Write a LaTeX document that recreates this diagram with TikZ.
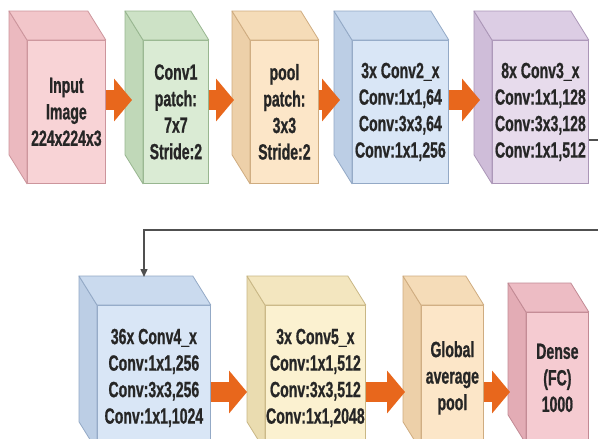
\documentclass[tikz,border=0pt]{standalone}
\usepackage{fontspec}
\usetikzlibrary{arrows.meta,calc}
\newfontfamily\boxfont[FakeStretch=0.64,FakeBold=0.8]{Liberation Sans Bold}

% face colours: front / side / top / edge
\definecolor{pinkF}{HTML}{F8D3D6}\definecolor{pinkS}{HTML}{EBB9BF}\definecolor{pinkT}{HTML}{F2C6CA}\definecolor{pinkE}{HTML}{CC959C}
\definecolor{greenF}{HTML}{DAEBD4}\definecolor{greenS}{HTML}{C0D8B8}\definecolor{greenT}{HTML}{CDE2C6}\definecolor{greenE}{HTML}{98B690}
\definecolor{peachF}{HTML}{FCE6C8}\definecolor{peachS}{HTML}{EDD0A9}\definecolor{peachT}{HTML}{F5DCB8}\definecolor{peachE}{HTML}{CFAC80}
\definecolor{blueF}{HTML}{D9E6F6}\definecolor{blueS}{HTML}{BCCEE5}\definecolor{blueT}{HTML}{CADAEE}\definecolor{blueE}{HTML}{93A9C6}
\definecolor{lilacF}{HTML}{E7DBEC}\definecolor{lilacS}{HTML}{CFBDD9}\definecolor{lilacT}{HTML}{DCCDE4}\definecolor{lilacE}{HTML}{AB96B7}
\definecolor{yellowF}{HTML}{FBF1D0}\definecolor{yellowS}{HTML}{EADCB0}\definecolor{yellowT}{HTML}{F3E6BF}\definecolor{yellowE}{HTML}{C9B785}
\definecolor{denseF}{HTML}{F5CBD1}\definecolor{denseS}{HTML}{E3ACB5}\definecolor{denseT}{HTML}{EDBCC4}\definecolor{denseE}{HTML}{C28A94}
\definecolor{txt}{HTML}{262626}
\definecolor{flowc}{HTML}{E8671C}
\definecolor{linkc}{HTML}{505050}

\tikzset{
  face/.style={line width=0.8pt, line join=round},
  block/.style={anchor=north west, inner sep=0pt, align=center, line width=0.8pt,
    font=\boxfont\fontsize{22}{26.5}\selectfont, text=txt},
  flow/.style={draw=flowc, line width=20pt, -{Triangle[width=42pt,length=18pt]}},
  link/.style={draw=linkc, line width=1.4pt, -{Triangle[width=7pt,length=8pt]}},
}

% side and top faces of a box whose front face is the node #1
\newcommand\boxdepth[4]{%
  \filldraw[face, fill=#2, draw=#4] (#1.north west) -- (#1.south west) -- ++(-18,29)
    -- ($(#1.north west)+(-18,29)$) -- cycle;
  \filldraw[face, fill=#3, draw=#4] (#1.north west) -- (#1.north east) -- ++(-18,29)
    -- ($(#1.north west)+(-18,29)$) -- cycle;
}

\begin{document}
\begin{tikzpicture}[x=1pt,y=1pt]
\useasboundingbox (0,0) rectangle (598,-439);
\clip (0,0) rectangle (598,-439);
\fill[white] (0,0) rectangle (598,-439);

% first row
\node[block, fill=pinkF, draw=pinkE, minimum width=78pt, minimum height=143pt] (input) at (27,-40)
  {Input\\Image\\224x224x3};
\boxdepth{input}{pinkS}{pinkT}{pinkE}
\node[block, fill=greenF, draw=greenE, minimum width=65pt, minimum height=143pt] (conv1) at (143,-40)
  {Conv1\\patch:\\7x7\\Stride:2};
\boxdepth{conv1}{greenS}{greenT}{greenE}
\node[block, fill=peachF, draw=peachE, minimum width=68pt, minimum height=143pt] (pool) at (250,-40)
  {pool\\patch:\\3x3\\Stride:2};
\boxdepth{pool}{peachS}{peachT}{peachE}
\node[block, fill=blueF, draw=blueE, minimum width=96pt, minimum height=143pt] (conv2) at (352,-40)
  {3x Conv2\_x\\Conv:1x1,64\\Conv:3x3,64\\Conv:1x1,256};
\boxdepth{conv2}{blueS}{blueT}{blueE}
\node[block, fill=lilacF, draw=lilacE, minimum width=96pt, minimum height=143pt] (conv3) at (492,-40)
  {8x Conv3\_x\\Conv:1x1,128\\Conv:3x3,128\\Conv:1x1,512};
\boxdepth{conv3}{lilacS}{lilacT}{lilacE}

% second row
\node[block, fill=blueF, draw=blueE, minimum width=113pt, minimum height=145pt] (conv4) at (97,-305)
  {36x Conv4\_x\\Conv:1x1,256\\Conv:3x3,256\\Conv:1x1,1024};
\boxdepth{conv4}{blueS}{blueT}{blueE}
\node[block, fill=yellowF, draw=yellowE, minimum width=100pt, minimum height=145pt] (conv5) at (265,-305)
  {3x Conv5\_x\\Conv:1x1,512\\Conv:3x3,512\\Conv:1x1,2048};
\boxdepth{conv5}{yellowS}{yellowT}{yellowE}
\node[block, fill=peachF, draw=peachE, minimum width=62pt, minimum height=145pt] (gap) at (421,-305)
  {Global\\average\\pool};
\boxdepth{gap}{peachS}{peachT}{peachE}
\node[block, fill=denseF, draw=denseE, minimum width=62pt, minimum height=131pt] (dense) at (526,-312)
  {Dense\\(FC)\\1000};
\boxdepth{dense}{denseS}{denseT}{denseE}

% heights of the two rows of block arrows
\coordinate (r1) at (0,-100);
\coordinate (r2) at (0,-392);

\draw[flow] (input.east |- r1) -- ($(conv1.west |- r1)+(-11,0)$);
\draw[flow] (conv1.east |- r1) -- ($(pool.west |- r1)+(-16,0)$);
\draw[flow] (pool.east |- r1) -- ($(conv2.west |- r1)+(-12,0)$);
\draw[flow] (conv2.east |- r1) -- ($(conv3.west |- r1)+(-12,0)$);
\draw[flow] (conv4.east |- r2) -- ($(conv5.west |- r2)+(-18,0)$);
\draw[flow] (conv5.east |- r2) -- ($(gap.west |- r2)+(-16,0)$);
\draw[flow] (gap.east |- r2) -- ($(dense.west |- r2)+(-16,0)$);

% wrap-around link from the first row into the second
\coordinate (c4top) at ($(conv4.north west)+(47,28)$);
\coordinate (wa) at (612,-140);
\coordinate (wb) at (612,-230);
\draw[link] (conv3.east |- wa) -- (wa) -- (wb) -- (c4top |- wb) -- (c4top);
\end{tikzpicture}
\end{document}
